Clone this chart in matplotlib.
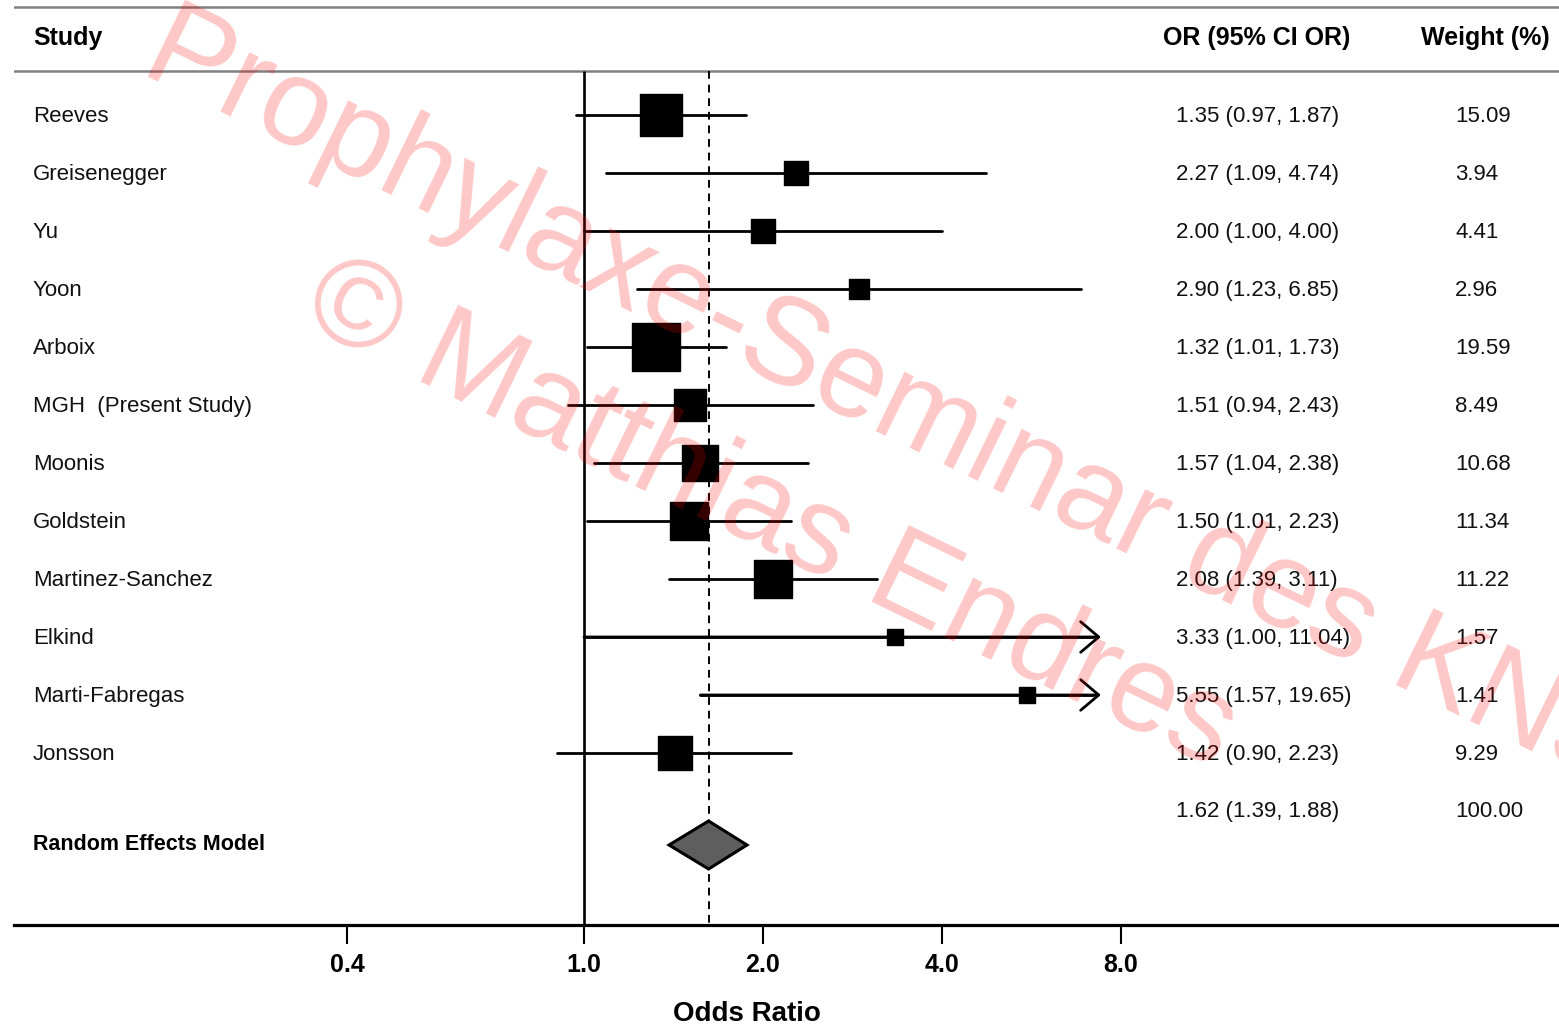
import numpy as np
import matplotlib
matplotlib.use("Agg")
import matplotlib.pyplot as plt
from matplotlib.patches import Polygon
from matplotlib.markers import MarkerStyle

plt.rcParams['font.family'] = ['Liberation Sans', 'DejaVu Sans']

studies = ['Reeves', 'Greisenegger', 'Yu', 'Yoon', 'Arboix', 'MGH  (Present Study)',
           'Moonis', 'Goldstein', 'Martinez-Sanchez', 'Elkind', 'Marti-Fabregas', 'Jonsson']
odds = [1.35, 2.27, 2.00, 2.90, 1.32, 1.51, 1.57, 1.50, 2.08, 3.33, 5.55, 1.42]
ci_low = [0.97, 1.09, 1.00, 1.23, 1.01, 0.94, 1.04, 1.01, 1.39, 1.00, 1.57, 0.90]
ci_high = [1.87, 4.74, 4.00, 6.85, 1.73, 2.43, 2.38, 2.23, 3.11, 11.04, 19.65, 2.23]
weights = [15.09, 3.94, 4.41, 2.96, 19.59, 8.49, 10.68, 11.34, 11.22, 1.57, 1.41, 9.29]

pooled = 1.62
pooled_low = 1.39
pooled_high = 1.88
pooled_weight = 100.00

ticks = [0.4, 1.0, 2.0, 4.0, 8.0]
tick_labels = ['0.4', '1.0', '2.0', '4.0', '8.0']

x_clip = 7.4  # CI beyond this drawn as arrow

W, H = 1559, 1027
fig = plt.figure(figsize=(W / 100, H / 100), dpi=100)
ax = fig.add_axes([14 / W, (H - 925) / H, (W - 14) / W, 925 / H])
ax.set_xscale('log')
ax.set_xlim(2 ** ((14 - 584) / 179), 2 ** ((W - 584) / 179))
ax.set_ylim((925 - 115) / 58, -115 / 58)


def row(py):
    return (py - 115) / 58


for s in ['left', 'top', 'right']:
    ax.spines[s].set_visible(False)
ax.spines['bottom'].set_linewidth(2.3)
ax.set_yticks([])
ax.set_xticks(ticks)
ax.set_xticklabels(tick_labels)
ax.xaxis.set_minor_locator(matplotlib.ticker.NullLocator())
ax.tick_params(axis='x', direction='out', length=14, width=1.5, pad=6, labelsize=18)
for lab in ax.get_xticklabels():
    lab.set_fontweight('bold')
ax.set_xlabel('Odds Ratio', fontsize=20, fontweight='bold')
ax.xaxis.set_label_coords((747 - 14) / (W - 14), -0.082)

# header lines
ax.axhline(row(7), color='#808080', lw=1.8)
ax.axhline(row(71), color='#808080', lw=1.8)

# reference lines
ax.vlines(1.0, row(71), row(925), color='black', lw=1.9)
ax.vlines(pooled, row(71), row(925), color='black', lw=1.4, linestyles=(0, (4, 3)))

ys = np.arange(len(studies))
sq = MarkerStyle('s', joinstyle='round')
for y, o, lo, hi, w in zip(ys, odds, ci_low, ci_high, weights):
    if hi > x_clip:
        ax.plot([lo, x_clip * 0.97], [y, y], color='black', lw=2.0, solid_capstyle='round', zorder=2)
        ax.annotate('', xy=(x_clip, y), xytext=(lo, y),
                    arrowprops=dict(arrowstyle='->,head_length=0.65,head_width=0.55',
                                    lw=2.0, color='black', mutation_scale=20,
                                    shrinkA=0, shrinkB=0), zorder=2)
    else:
        ax.plot([lo, hi], [y, y], color='black', lw=2.0, solid_capstyle='round', zorder=2)
    ms = 0.72 * (3.4 + 10.06 * np.sqrt(w))
    ax.plot([o], [y], marker=sq, ms=ms, color='black', mec='black', mew=1.0, zorder=3)

# pooled diamond
yd = row(845)
hd = 24 / 58
diamond = Polygon([(pooled_low, yd), (pooled, yd - hd), (pooled_high, yd), (pooled, yd + hd)],
                  closed=True, facecolor='#5e5e5e', edgecolor='black', lw=2.2, zorder=3)
ax.add_patch(diamond)

# text columns
tr = ax.get_yaxis_transform()
def fx(px):
    return (px - 14) / (W - 14)

ax.text(fx(33), row(38), 'Study', transform=tr, fontsize=18, fontweight='bold', va='center')
ax.text(fx(1163), row(38), 'OR (95% CI OR)', transform=tr, fontsize=18, fontweight='bold', va='center')
ax.text(fx(1421), row(38), 'Weight (%)', transform=tr, fontsize=18, fontweight='bold', va='center')

dy = 0.03
for y, name, o, lo, hi, w in zip(ys, studies, odds, ci_low, ci_high, weights):
    ax.text(fx(33), y + dy, name, transform=tr, fontsize=16, va='center', color='#111111')
    ax.text(fx(1176), y + dy, f'{o:.2f} ({lo:.2f}, {hi:.2f})', transform=tr, fontsize=16,
            va='center', color='#111111')
    ax.text(fx(1455), y + dy, f'{w:.2f}', transform=tr, fontsize=16, va='center', color='#111111')

ax.text(fx(1176), row(810) + dy, f'{pooled:.2f} ({pooled_low:.2f}, {pooled_high:.2f})', transform=tr,
        fontsize=16, va='center', color='#111111')
ax.text(fx(1455), row(810) + dy, f'{pooled_weight:.2f}', transform=tr, fontsize=16, va='center',
        color='#111111')
ax.text(fx(33), row(844), 'Random Effects Model', transform=tr, fontsize=15.5, fontweight='bold',
        va='center')

# watermark
fig.text(138 / W, 1 - 72 / H, 'Prophylaxe-Seminar des KNS', fontsize=89, color='red',
         alpha=0.22, rotation=-26, rotation_mode='anchor', ha='left', va='baseline', zorder=10)
fig.text(298 / W, 1 - 322 / H, '\u00a9 Matthias Endres', fontsize=89, color='red',
         alpha=0.22, rotation=-26, rotation_mode='anchor', ha='left', va='baseline', zorder=10)

fig.savefig('out.png', dpi=100)
